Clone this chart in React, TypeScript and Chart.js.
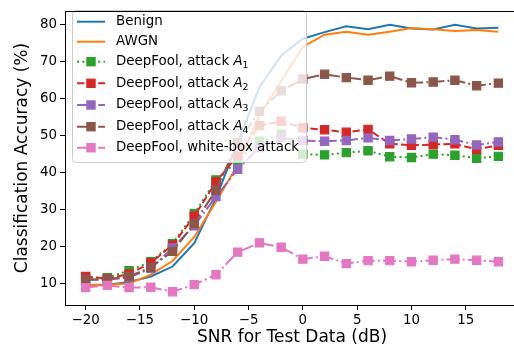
import React, { useEffect, useRef } from 'react';
import { Chart, registerables } from 'chart.js';

Chart.register(...registerables);

const snr = [-20, -18, -16, -14, -12, -10, -8, -6, -4, -2, 0, 2, 4, 6, 8, 10, 12, 14, 16, 18];
const benign = [9.5, 9.6, 10.3, 11.8, 14.5, 20.8, 33.0, 48.0, 63.0, 71.5, 76.1, 77.9, 79.5, 78.7, 79.9, 78.9, 78.6, 79.9, 78.9, 79.1];
const awgn = [9.6, 9.6, 9.9, 12.3, 16.0, 22.5, 32.0, 42.0, 55.4, 64.7, 73.9, 77.2, 78.0, 77.2, 78.0, 79.0, 78.7, 78.2, 78.5, 78.0];
const attackA1 = [11.5, 11.5, 13.4, 15.8, 20.7, 28.8, 37.9, 43.0, 48.4, 50.3, 44.9, 44.7, 45.3, 45.8, 44.2, 44.0, 44.9, 44.6, 43.8, 44.3];
const attackA2 = [11.8, 11.2, 12.5, 15.5, 20.3, 28.1, 37.4, 44.5, 52.6, 53.8, 52.0, 51.5, 50.8, 51.6, 47.7, 47.3, 47.5, 47.7, 46.2, 47.3];
const attackA3 = [10.8, 11.0, 11.5, 14.0, 19.5, 25.5, 33.4, 40.8, 46.7, 49.3, 48.6, 48.4, 48.6, 49.3, 48.6, 49.0, 49.5, 48.8, 47.4, 48.2];
const attackA4 = [11.0, 11.1, 11.8, 14.3, 18.6, 26.1, 35.2, 48.0, 56.5, 62.0, 65.2, 66.5, 65.6, 64.9, 66.0, 64.2, 64.4, 64.9, 63.4, 64.1];
const whiteBox = [8.8, 9.4, 8.8, 8.9, 7.7, 9.6, 12.3, 18.4, 20.9, 19.7, 16.5, 17.3, 15.3, 16.1, 16.1, 15.8, 16.2, 16.5, 16.2, 15.8];

const seriesLabels = [
  'Benign',
  'AWGN',
  'DeepFool, attack A1',
  'DeepFool, attack A2',
  'DeepFool, attack A3',
  'DeepFool, attack A4',
  'DeepFool, white-box attack',
];
const seriesValues = [benign, awgn, attackA1, attackA2, attackA3, attackA4, whiteBox];
const seriesColors = ['#1f77b4', '#ff7f0e', '#2ca02c', '#d62728', '#9467bd', '#8c564b', '#e377c2'];
const seriesDash: number[][] = [[], [], [2, 3.3], [7.4, 3.2], [12.8, 3.2, 2, 3.2], [12.8, 3.2, 2, 3.2], [12.8, 3.2, 2, 3.2]];
const seriesMarkers = [false, false, true, true, true, true, true];

const xTickValues = [-20, -15, -10, -5, 0, 5, 10, 15];
const yTickValues = [10, 20, 30, 40, 50, 60, 70, 80];

const FONT = '"DejaVu Sans", sans-serif';
const legendRowY = [21.7, 41.7, 61.7, 83.3, 105, 126.7, 147.7];

const fmt = (v: number) => (v < 0 ? '\u2212' + Math.abs(v) : String(v));

const framePlugin = {
  id: 'frame',
  afterDraw(chart: any) {
    const { ctx, chartArea } = chart;
    ctx.save();
    ctx.strokeStyle = '#000';
    ctx.lineWidth = 1;
    ctx.beginPath();
    ctx.moveTo(chartArea.left, Math.round(chartArea.top) + 0.5);
    ctx.lineTo(chartArea.right, Math.round(chartArea.top) + 0.5);
    ctx.stroke();
    ctx.restore();
  },
};

const legendPlugin = {
  id: 'mplLegend',
  afterDatasetsDraw(chart: any) {
    const ctx = chart.ctx as CanvasRenderingContext2D;
    ctx.save();
    const bx = 72.5, by = 10.5, bw = 234, bh = 152;
    ctx.beginPath();
    (ctx as any).roundRect(bx, by, bw, bh, 4);
    ctx.fillStyle = 'rgba(255,255,255,0.8)';
    ctx.fill();
    ctx.strokeStyle = '#cccccc';
    ctx.lineWidth = 1;
    ctx.stroke();
    chart.data.datasets.forEach((ds: any, i: number) => {
      const y = legendRowY[i];
      ctx.setLineDash(ds.borderDash || []);
      ctx.strokeStyle = ds.borderColor;
      ctx.lineWidth = 2;
      ctx.beginPath();
      ctx.moveTo(77, y);
      ctx.lineTo(105, y);
      ctx.stroke();
      ctx.setLineDash([]);
      if (ds.pointRadius > 0) {
        const s = ds.pointRadius * Math.SQRT1_2;
        ctx.fillStyle = ds.backgroundColor;
        ctx.fillRect(91 - s, y - s, 2 * s, 2 * s);
        ctx.lineWidth = ds.pointBorderWidth;
        ctx.strokeRect(91 - s, y - s, 2 * s, 2 * s);
      }
      ctx.fillStyle = '#000';
      ctx.textBaseline = 'middle';
      ctx.textAlign = 'left';
      const label: string = ds.label;
      const m = label.match(/^(.*)A(\d)$/);
      let x = 116;
      if (m) {
        ctx.font = `13.4px ${FONT}`;
        ctx.fillText(m[1], x, y);
        x += ctx.measureText(m[1]).width;
        ctx.font = `oblique 13.4px ${FONT}`;
        ctx.fillText('A', x, y);
        x += ctx.measureText('A').width;
        ctx.font = `9.4px ${FONT}`;
        ctx.fillText(m[2], x, y + 4);
      } else {
        ctx.font = `13.4px ${FONT}`;
        ctx.fillText(label, x, y);
      }
    });
    ctx.restore();
  },
};

export default function App() {
  const ref = useRef<HTMLCanvasElement | null>(null);
  useEffect(() => {
    if (!ref.current) return;
    const datasets = seriesValues.map((vals, i) => ({
      label: seriesLabels[i],
      data: snr.map((x, j) => ({ x, y: vals[j] })),
      borderColor: seriesColors[i],
      backgroundColor: seriesColors[i],
      borderWidth: 2,
      borderDash: seriesDash[i],
      pointStyle: 'rect',
      pointRadius: seriesMarkers[i] ? 5.8 : 0,
      pointBorderWidth: 1.2,
      pointBackgroundColor: seriesColors[i],
      pointBorderColor: seriesColors[i],
      tension: 0,
      order: 6 - i,
    }));
    const chart = new Chart(ref.current, {
      type: 'line',
      data: { datasets },
      options: {
        animation: false,
        responsive: false,
        devicePixelRatio: 1,
        layout: { padding: { top: 3, right: 11, left: 0, bottom: 0 } },
        plugins: { legend: { display: false }, tooltip: { enabled: false } },
        scales: {
          x: {
            type: 'linear',
            min: -21.9,
            max: 19.9,
            afterBuildTicks: (s: any) => {
              s.ticks = xTickValues.map((v) => ({ value: v }));
            },
            afterFit: (s: any) => {
              s.height = 45;
            },
            ticks: {
              callback: (v: any) => fmt(Number(v)),
              font: { family: FONT, size: 13.4 },
              color: '#000',
              padding: 2,
              maxRotation: 0,
              autoSkip: false,
            },
            grid: { drawOnChartArea: false, drawTicks: true, tickLength: 5, color: '#000', tickWidth: 1 },
            border: { display: true, color: '#000', width: 1 },
            title: {
              display: true,
              text: 'SNR for Test Data (dB)',
              font: { family: FONT, size: 17 },
              color: '#000',
              padding: { top: 0, bottom: 2 },
            },
          },
          y: {
            type: 'linear',
            min: 4.1,
            max: 83.6,
            afterBuildTicks: (s: any) => {
              s.ticks = yTickValues.map((v) => ({ value: v }));
            },
            afterFit: (s: any) => {
              s.width = 65;
            },
            ticks: {
              callback: (v: any) => fmt(Number(v)),
              font: { family: FONT, size: 13.4 },
              color: '#000',
              padding: 3,
              autoSkip: false,
            },
            grid: { drawOnChartArea: false, drawTicks: true, tickLength: 5, color: '#000', tickWidth: 1 },
            border: { display: true, color: '#000', width: 1 },
            title: {
              display: true,
              text: 'Classification Accuracy (%)',
              font: { family: FONT, size: 17 },
              color: '#000',
              padding: { top: 12, bottom: 0 },
            },
          },
        },
      },
      plugins: [legendPlugin, framePlugin],
    } as any);
    return () => chart.destroy();
  }, []);
  return (
    <div style={{ position: 'absolute', left: 0, top: 0, width: 514, height: 350, overflow: 'hidden', background: '#fff' }}>
      <canvas ref={ref} width={530} height={350} style={{ display: 'block' }} />
    </div>
  );
}
